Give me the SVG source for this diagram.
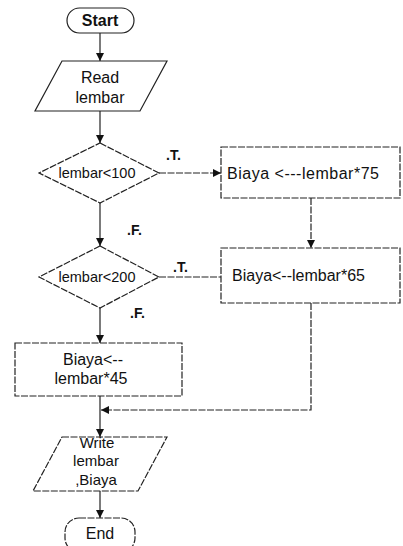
<svg xmlns="http://www.w3.org/2000/svg" width="403" height="546" viewBox="0 0 403 546">
  <defs>
    <marker id="arrow" viewBox="0 0 10 10" refX="10" refY="5" markerWidth="8" markerHeight="8" markerUnits="userSpaceOnUse" orient="auto">
      <path d="M0,0 L10,5 L0,10 z" fill="#111"/>
    </marker>
  </defs>
  <style>
    .shape { fill: #fff; stroke: #222; stroke-width: 1.2; }
    .dash { stroke-dasharray: 7 1.5; }
    .line { fill: none; stroke: #222; stroke-width: 1.2; }
    text { font-family: "Liberation Sans", Arial, sans-serif; font-size: 16px; fill: #111; }
    .mid { text-anchor: middle; }
    .cond { font-size: 14.5px; }
    .lbl { font-size: 14px; font-weight: bold; }
    .strong { font-weight: bold; }
  </style>
  <rect width="403" height="546" fill="#fff"/>

  <!-- connectors -->
  <g id="connectors">
    <line class="line" x1="100" y1="33" x2="100" y2="61" marker-end="url(#arrow)"/>
    <line class="line" x1="100" y1="111" x2="100" y2="143" marker-end="url(#arrow)"/>
    <line class="line dash" x1="159" y1="173" x2="221" y2="173" marker-end="url(#arrow)"/>
    <line class="line dash" x1="311" y1="198" x2="311" y2="248" marker-end="url(#arrow)"/>
    <line class="line" x1="100" y1="203" x2="100" y2="246" marker-end="url(#arrow)"/>
    <line class="line dash" x1="159" y1="277" x2="221" y2="277"/>
    <line class="line" x1="100" y1="308" x2="100" y2="343" marker-end="url(#arrow)"/>
    <polyline class="line dash" points="311,303 311,410 101,410" marker-end="url(#arrow)"/>
    <line class="line" x1="100" y1="396" x2="100" y2="437" marker-end="url(#arrow)"/>
    <line class="line" x1="100" y1="491" x2="100" y2="518" marker-end="url(#arrow)"/>
    <text class="lbl" x="166" y="160">.T.</text>
    <text class="lbl" x="127" y="235">.F.</text>
    <text class="lbl" x="173" y="272">.T.</text>
    <text class="lbl" x="130" y="318">.F.</text>
  </g>

  <!-- start -->
  <g id="start">
    <rect class="shape" x="67" y="8" width="67" height="25" rx="12.5"/>
    <text class="mid strong" x="100" y="26">Start</text>
  </g>

  <!-- input -->
  <g id="read">
    <polygon class="shape" points="62,61 167,61 140,111 35,111"/>
    <text class="mid" x="100" y="83">Read</text>
    <text class="mid" x="100" y="103">lembar</text>
  </g>

  <!-- first decision -->
  <g id="cond100">
    <polygon class="shape dash" points="100,143 159,173 100,203 39,173"/>
    <text class="mid cond" x="97" y="178">lembar&lt;100</text>
  </g>

  <g id="biaya75">
    <rect class="shape dash" x="221" y="147" width="179" height="51"/>
    <text x="227" y="179" textLength="152">Biaya &lt;---lembar*75</text>
  </g>

  <!-- second decision -->
  <g id="cond200">
    <polygon class="shape dash" points="100,246 159,277 100,308 39,277"/>
    <text class="mid cond" x="97" y="282">lembar&lt;200</text>
  </g>

  <g id="biaya65">
    <rect class="shape dash" x="221" y="248" width="179" height="55"/>
    <text x="232" y="281">Biaya&lt;--lembar*65</text>
  </g>

  <g id="biaya45">
    <rect class="shape dash" x="15" y="343" width="167" height="53"/>
    <text class="mid" x="93" y="365">Biaya&lt;--</text>
    <text class="mid" x="91" y="384">lembar*45</text>
  </g>

  <!-- output -->
  <g id="write">
    <polygon class="shape dash" points="62,437 167,437 138,491 33,491"/>
    <text class="mid" x="97" y="448" style="font-size:15px">Write</text>
    <text class="mid" x="96" y="466" style="font-size:15px">lembar</text>
    <text class="mid" x="96" y="485" style="font-size:15px">,Biaya</text>
  </g>

  <!-- end -->
  <g id="end">
    <rect class="shape dash" x="65" y="518" width="70" height="34" rx="14"/>
    <text class="mid" x="100" y="539">End</text>
  </g>
</svg>
